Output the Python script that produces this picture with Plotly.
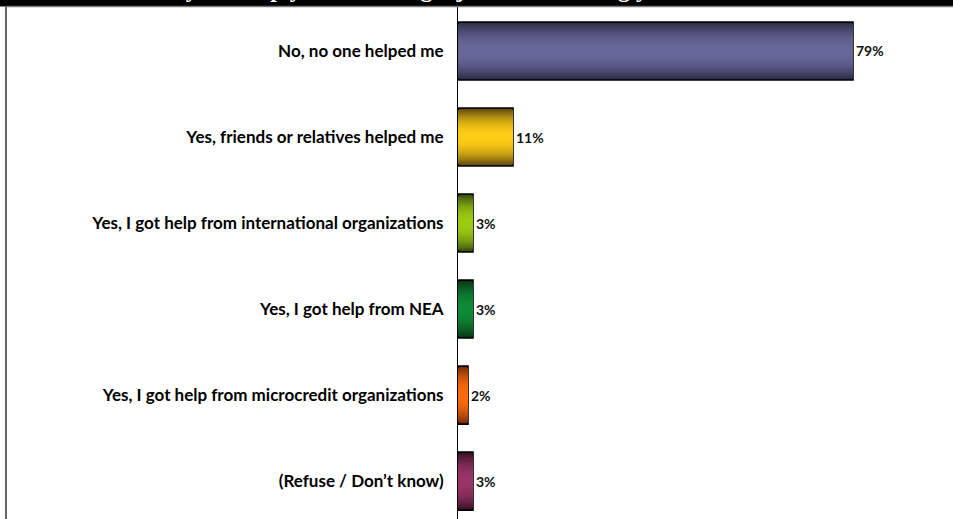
import plotly.graph_objects as go

categories = [
    "No, no one helped me",
    "Yes, friends or relatives helped me",
    "Yes, I got help from international organizations",
    "Yes, I got help from NEA",
    "Yes, I got help from microcredit organizations",
    "(Refuse / Don\u2019t know)",
]
values = [79, 11, 3, 3, 2, 3]
value_labels = ["79%", "11%", "3%", "3%", "2%", "3%"]
edge_colors = ["#2c2c46", "#5e4a0e", "#3a4e12", "#083514", "#7a2c04", "#3a1226"]
center_colors = ["#67679a", "#fdcb14", "#9ccb12", "#0f8a36", "#fb6a0e", "#9a3468"]
title_text = "Did anyone help you in finding a job or in starting your own business?"

W, H = 953, 519
ML, MR, MT, MB = 458, 3, 7, 0
plot_w = W - ML - MR
plot_h = H - MT - MB
px_per_unit = 5.0
x_max = plot_w / px_per_unit


def hex2rgb(h):
    h = h.lstrip("#")
    return [int(h[i:i + 2], 16) for i in (0, 2, 4)]


def mix(c1, c2, t):
    a, b = hex2rgb(c1), hex2rgb(c2)
    return "rgb(%d,%d,%d)" % tuple(round(a[i] + (b[i] - a[i]) * t) for i in range(3))


fig = go.Figure()
bar_w = 0.674
N = 14
for k in range(N):
    frac = k / (N - 1)
    t = 1 - (1 - frac) ** 2
    colors = [mix(e, c, t) for e, c in zip(edge_colors, center_colors)]
    w = bar_w * (1 - k / N)
    fig.add_trace(go.Bar(
        x=values, y=categories, orientation="h", width=w,
        marker=dict(color=colors,
                    line=dict(color="black", width=1.6 if k == 0 else 0)),
        text=value_labels if k == 0 else None,
        textposition="outside" if k == 0 else "none",
        textfont=dict(family="Lato", size=14, color="#111111", weight="bold"),
        cliponaxis=False, showlegend=False, hoverinfo="skip",
    ))

fig.update_layout(
    width=W, height=H, barmode="overlay",
    margin=dict(l=ML, r=MR, t=MT, b=MB),
    paper_bgcolor="white", plot_bgcolor="white",
    font=dict(family="Lato", color="black"),
    xaxis=dict(range=[0, x_max], visible=False, fixedrange=True),
    yaxis=dict(
        type="category", categoryorder="array", categoryarray=categories,
        range=[5.44, -0.511], showline=True, linecolor="black", linewidth=1,
        showgrid=False, zeroline=False, ticks="", ticklabelstandoff=10,
        tickfont=dict(family="Lato", size=17, color="black", weight="bold"),
    ),
    shapes=[
        dict(type="rect", xref="paper", yref="paper",
             x0=-ML / plot_w, x1=1 + MR / plot_w,
             y0=1 + 0.5 / plot_h, y1=1 + MT / plot_h + 0.05,
             fillcolor="black", line=dict(width=0), layer="above"),
        dict(type="line", xref="paper", yref="paper",
             x0=-(ML - 6) / plot_w, x1=1 + MR / plot_w,
             y0=1 + 0.5 / plot_h, y1=1 + 0.5 / plot_h,
             line=dict(color="#777777", width=1.5)),
        dict(type="line", xref="paper", yref="paper",
             x0=-(ML - 6) / plot_w, x1=-(ML - 6) / plot_w,
             y0=0, y1=1 + 0.5 / plot_h,
             line=dict(color="#666666", width=2)),
    ],
    annotations=[
        dict(text=title_text, xref="paper", yref="paper",
             x=(476 - ML) / plot_w, xanchor="center",
             y=1 + 3 / plot_h, yanchor="bottom", showarrow=False,
             font=dict(family="Liberation Serif", size=24, color="white",
                       weight="bold")),
    ],
)

fig.write_html("out.html", config={"displayModeBar": False},
               post_script="document.body.style.margin='0';document.body.style.overflow='hidden';")
